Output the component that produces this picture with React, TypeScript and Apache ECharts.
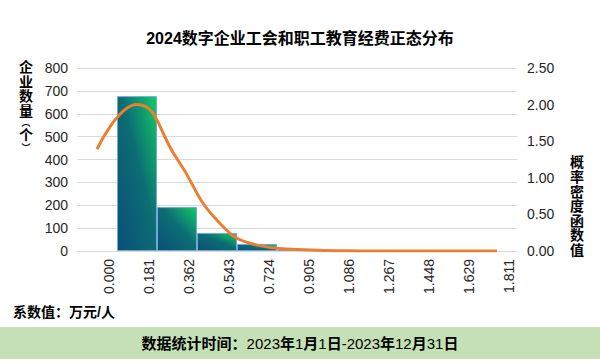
import React, { useEffect, useRef } from "react";
import * as echarts from "echarts";

const categories = ["0.000", "0.181", "0.362", "0.543", "0.724", "0.905", "1.086", "1.267", "1.448", "1.629", "1.811"];
const counts = [0, 677, 192, 79, 31, 6, 5, 4, 0, 0, 0];
const density = [1.39, 2.0, 1.26, 0.42, 0.08, 0.02, 0.005, 0, 0, 0, 0];
const leftTicks = { min: 0, max: 800, interval: 100 };
const rightTicks = { min: 0, max: 2.5, interval: 0.5 };

const FONT = "'Liberation Sans', 'Noto Sans CJK SC', sans-serif";

export default function App() {
  const ref = useRef<HTMLDivElement>(null);
  useEffect(() => {
    document.body.style.margin = "0";
    const chart = echarts.init(ref.current!, null, { renderer: "svg" });
    chart.setOption({
      animation: false,
      backgroundColor: "#ffffff",
      textStyle: { fontFamily: FONT },
      title: {
        text: "2024数字企业工会和职工教育经费正态分布",
        left: "center",
        top: 25,
        textStyle: { fontSize: 16, fontWeight: "bold", color: "#000", fontFamily: FONT },
      },
      grid: { left: 77, right: 83, top: 68, bottom: 110, containLabel: false },
      xAxis: {
        type: "category",
        data: categories,
        axisLine: { show: true, lineStyle: { color: "#d9d9d9", width: 1 } },
        axisTick: { show: false },
        axisLabel: {
          rotate: 90,
          interval: 0,
          margin: 8,
          fontSize: 14,
          color: "#262626",
          verticalAlign: "top",
          lineHeight: 24,
          fontFamily: FONT,
        },
      },
      yAxis: [
        {
          type: "value",
          ...leftTicks,
          axisLine: { show: false },
          axisTick: { show: false },
          splitLine: { lineStyle: { color: "#d9d9d9", width: 1 } },
          axisLabel: { fontSize: 14, color: "#262626", margin: 9, fontFamily: FONT },
        },
        {
          type: "value",
          ...rightTicks,
          axisLine: { show: false },
          axisTick: { show: false },
          splitLine: { show: false },
          axisLabel: {
            fontSize: 14,
            color: "#262626",
            margin: 10,
            fontFamily: FONT,
            formatter: (v: number) => v.toFixed(2),
          },
        },
      ],
      series: [
        {
          type: "bar",
          data: counts.map((v) => (v === 0 ? null : v)),
          barCategoryGap: 0,
          yAxisIndex: 0,
          itemStyle: {
            color: new echarts.graphic.LinearGradient(0, 1, 1, 0, [
              { offset: 0, color: "#0a4f78" },
              { offset: 0.55, color: "#0c6d74" },
              { offset: 1, color: "#13cc66" },
            ]),
            borderColor: "#6fa8dc",
            borderWidth: 1,
          },
        },
        {
          type: "line",
          data: density,
          yAxisIndex: 1,
          smooth: true,
          symbol: "none",
          lineStyle: { color: "#ed7d31", width: 3 },
          itemStyle: { color: "#ed7d31" },
        },
      ],
      graphic: [
        {
          type: "text",
          left: 19,
          top: 60,
          style: {
            text: "{c|企}\n{c|业}\n{c|数}\n{c|量}\n{p|︵}\n{c|个}\n{p|︶}",
            rich: {
              c: { fontSize: 14, fontWeight: "bold", lineHeight: 14.6, fill: "#000", fontFamily: FONT },
              p: { fontSize: 9, fontWeight: "bold", lineHeight: 10, fill: "#000", fontFamily: FONT, align: "center", width: 14 },
            },
          },
        },
        {
          type: "text",
          left: 570,
          top: 155,
          style: {
            text: "概\n率\n密\n度\n函\n数\n值",
            fontSize: 14,
            fontWeight: "bold",
            lineHeight: 14.6,
            fill: "#000",
            fontFamily: FONT,
          },
        },
        {
          type: "text",
          left: 13,
          top: 305,
          style: {
            text: "系数值：万元/人",
            fontSize: 14,
            fontWeight: "bold",
            fill: "#000",
            fontFamily: FONT,
          },
        },
        {
          type: "rect",
          left: 0,
          top: 327,
          shape: { width: 600, height: 32 },
          style: { fill: "#c5e0b4" },
        },
        {
          type: "text",
          left: "center",
          top: 336,
          style: {
            text: "{b|数据统计时间：}{n|2023}{b|年}{n|1}{b|月}{n|1}{b|日}{n|-2023}{b|年}{n|12}{b|月}{n|31}{b|日}",
            rich: {
              b: { fontSize: 15, fontWeight: "bold", fill: "#000", fontFamily: FONT },
              n: { fontSize: 15, fontWeight: "normal", fill: "#000", fontFamily: FONT },
            },
          },
        },
      ],
    });
    return () => chart.dispose();
  }, []);
  return <div ref={ref} style={{ position: "fixed", left: 0, top: 0, width: 600, height: 361 }} />;
}
